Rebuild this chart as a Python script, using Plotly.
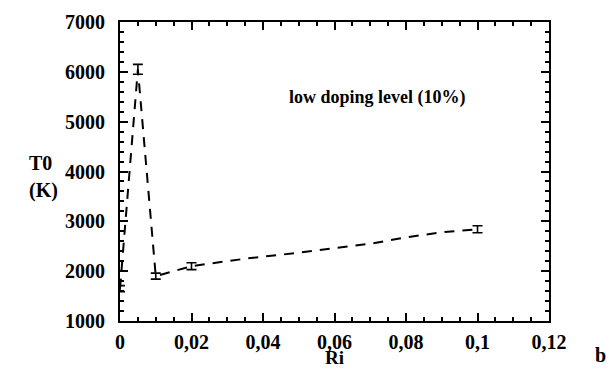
import plotly.graph_objects as go

# measured points (with error bars)
ri_pts = [0.0, 0.005, 0.01, 0.02, 0.1]
t0_pts = [1650, 6050, 1900, 2100, 2840]
t0_err = [60, 100, 60, 70, 70]

# dashed connecting curve vertices
ri_line = [0.0, 0.005, 0.01, 0.02, 0.035, 0.05, 0.07, 0.08, 0.09, 0.1]
t0_line = [1650, 6050, 1900, 2100, 2250, 2370, 2550, 2680, 2780, 2840]

x_ticks = [0, 0.02, 0.04, 0.06, 0.08, 0.1, 0.12]
x_labels = ["0", "0,02", "0,04", "0,06", "0,08", "0,1", "0,12"]
y_ticks = [1000, 2000, 3000, 4000, 5000, 6000, 7000]
y_labels = ["1000", "2000", "3000", "4000", "5000", "6000", "7000"]

FONT = "Liberation Serif"

fig = go.Figure()
fig.add_trace(go.Scatter(
    x=ri_line, y=t0_line, mode="lines",
    line=dict(color="black", width=2, dash="10px,8px"),
    hoverinfo="skip", showlegend=False))
fig.add_trace(go.Scatter(
    x=ri_pts, y=t0_pts, mode="markers",
    marker=dict(size=1, color="black"),
    error_y=dict(type="data", array=t0_err, visible=True,
                 color="black", thickness=1.6, width=5),
    showlegend=False))

axis_common = dict(
    showline=True, linecolor="black", linewidth=2, mirror="allticks",
    ticks="inside", ticklen=8, tickwidth=2, tickcolor="black",
    showgrid=False, zeroline=False,
    tickfont=dict(family=FONT, size=20, color="black", weight="bold"),
)

fig.update_xaxes(range=[0, 0.12], tickvals=x_ticks,
                 ticktext=["<b>%s</b>" % t for t in x_labels],
                 minor=dict(dtick=0.005, ticks="inside", ticklen=4, tickwidth=1.5, tickcolor="black"),
                 ticklabelstandoff=2,
                 **axis_common)
fig.update_yaxes(range=[1000, 7000], tickvals=y_ticks,
                 ticktext=["<b>%s</b>" % t for t in y_labels],
                 minor=dict(dtick=200, ticks="inside", ticklen=4, tickwidth=1.5, tickcolor="black"),
                 ticklabelstandoff=9,
                 **axis_common)

bold = dict(family=FONT, size=20, color="black")
fig.add_annotation(x=(27 - 120) / 429, y=(321 - 163) / 299, xref="paper", yref="paper",
                   text="<b>T0</b>", showarrow=False, font=bold)
fig.add_annotation(x=(27 - 120) / 429, y=(321 - 190) / 299, xref="paper", yref="paper",
                   text="<b>(K)</b>", showarrow=False, font=bold)
fig.add_annotation(x=(334 - 120) / 429, y=(321 - 357) / 299, xref="paper", yref="paper",
                   text="<b>Ri</b>", showarrow=False, font=dict(family=FONT, size=19, color="black"),
                   yanchor="middle", borderpad=0)
fig.add_annotation(x=(608 - 120) / 429, y=(321 - 355) / 299, xref="paper", yref="paper",
                   text="<b>b</b>", showarrow=False, font=bold, yanchor="middle")
fig.add_annotation(x=0.072, y=5480, xref="x", yref="y", text="<b>low doping level (10%)</b>",
                   showarrow=False, font=dict(family=FONT, size=18, color="black"))

fig.update_layout(
    width=615, height=369,
    margin=dict(l=120, r=66, t=22, b=48),
    paper_bgcolor="white", plot_bgcolor="white",
)
fig.write_html("out.html")
